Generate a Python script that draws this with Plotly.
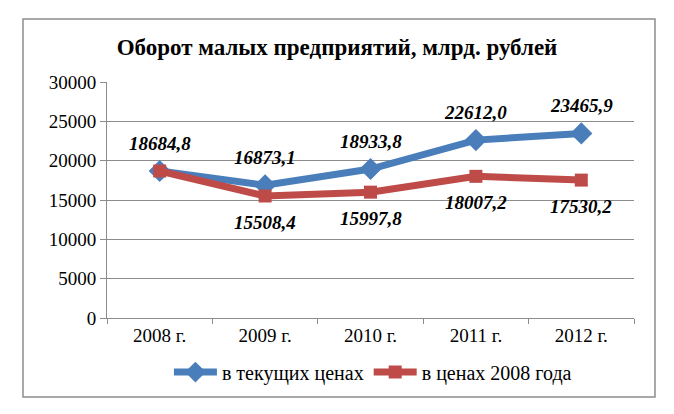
import plotly.graph_objects as go

years = ["2008 г.", "2009 г.", "2010 г.", "2011 г.", "2012 г."]
current_prices = [18684.8, 16873.1, 18933.8, 22612.0, 23465.9]
prices_2008 = [18684.8, 15508.4, 15997.8, 18007.2, 17530.2]
current_labels = ["18684,8", "16873,1", "18933,8", "22612,0", "23465,9"]
base_labels = ["", "15508,4", "15997,8", "18007,2", "17530,2"]

title = "Оборот малых предприятий, млрд. рублей"
name_current = "в текущих ценах"
name_base = "в ценах 2008 года"

BLUE = "#4A7EBB"
RED = "#BE4B48"
SERIF = "Liberation Serif, Times New Roman, serif"
GRID = "#8c8c8c"

fig = go.Figure()
fig.add_trace(go.Scatter(
    x=years, y=current_prices, name=name_current, mode="lines+markers",
    line=dict(color=BLUE, width=7),
    marker=dict(symbol="diamond", size=17, color=BLUE),
))
fig.add_trace(go.Scatter(
    x=years, y=prices_2008, name=name_base, mode="lines+markers",
    line=dict(color=RED, width=7),
    marker=dict(symbol="square", size=13, color=RED),
))

annotations = []
for x, y, t in zip(years, current_prices, current_labels):
    if t:
        annotations.append(dict(x=x, y=y, text=f"<b><i>{t}</i></b>", showarrow=False,
                                yshift=28, font=dict(family=SERIF, size=19, color="#000")))
for x, y, t in zip(years, prices_2008, base_labels):
    if t:
        annotations.append(dict(x=x, y=y, text=f"<b><i>{t}</i></b>", showarrow=False,
                                yshift=-26, font=dict(family=SERIF, size=19, color="#000")))

fig.update_layout(
    width=674, height=414,
    margin=dict(l=107, r=40, t=82, b=96),
    paper_bgcolor="white", plot_bgcolor="white",
    font=dict(family=SERIF, size=18, color="#000"),
    title=dict(text=f"<b>{title}</b>", x=0.5, xanchor="center", y=0.887, yanchor="middle",
               font=dict(family=SERIF, size=23, color="#000")),
    showlegend=True,
    legend=dict(orientation="h", x=0.5046, xanchor="center", y=-0.229, yanchor="middle",
                itemwidth=43, font=dict(family=SERIF, size=20, color="#000"),
                bgcolor="rgba(0,0,0,0)"),
    annotations=annotations,
    shapes=[dict(type="rect", xref="paper", yref="paper", x0=-0.1594, x1=1.0398,
                 y0=-0.335, y1=1.267, line=dict(color=GRID, width=1.5))],
)
fig.update_xaxes(range=[-0.5, 4.5], showline=True, linecolor=GRID, linewidth=1,
                 ticks="outside", tickson="boundaries", ticklen=5, tickcolor=GRID,
                 showgrid=False, tickfont=dict(family=SERIF, size=19, color="#000"))
fig.update_yaxes(range=[0, 30000], dtick=5000, showline=True, linecolor=GRID, linewidth=1,
                 ticks="outside", ticklen=6, tickcolor=GRID,
                 showgrid=True, gridcolor=GRID, gridwidth=1, zeroline=False,
                 tickfont=dict(family=SERIF, size=19, color="#000"), tickformat="d")

fig.write_html("out.html")
